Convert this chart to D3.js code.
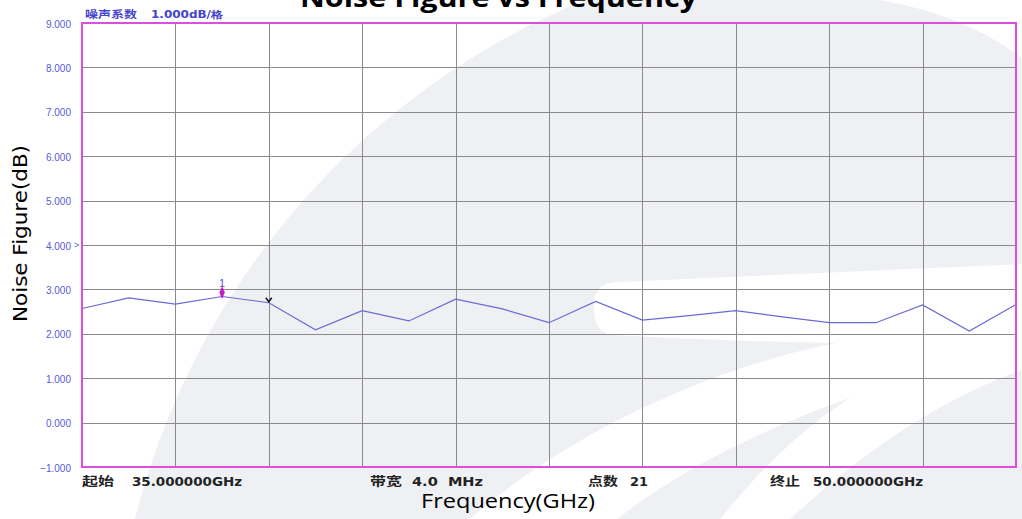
<!DOCTYPE html>
<html><head><meta charset="utf-8">
<script src="https://cdn.jsdelivr.net/npm/d3@7"></script>
<style>html,body{margin:0;padding:0;background:#fff;overflow:hidden}</style>
</head><body>
<script>
const freqs = [35, 35.75, 36.5, 37.25, 38, 38.75, 39.5, 40.25, 41, 41.75, 42.5, 43.25, 44, 44.75, 45.5, 46.25, 47, 47.75, 48.5, 49.25, 50];
const noiseFigure = [2.57, 2.81, 2.67, 2.84, 2.70, 2.09, 2.52, 2.29, 2.78, 2.56, 2.25, 2.73, 2.31, 2.41, 2.52, 2.38, 2.25, 2.25, 2.65, 2.06, 2.66];
const yTicks = [-1, 0, 1, 2, 3, 4, 5, 6, 7, 8, 9];
const xGrid = [35, 36.5, 38, 39.5, 41, 42.5, 44, 45.5, 47, 48.5, 50];
const markerIndex = 3;
const refIndex = 4;
const infoLabels = [
  {cn: "起始", val: "35.000000GHz"},
  {cn: "带宽", val: "4.0  MHz"},
  {cn: "点数", val: "21"},
  {cn: "终止", val: "50.000000GHz"}
];
const title = "Noise Figure vs Frequency";
const xTitle = "Frequency(GHz)";
const yTitle = "Noise Figure(dB)";
const header = ["噪声系数", "1.000dB/格"];

const W = 1022, H = 519;
const m = {left: 82, right: 1016, top: 23, bottom: 467};
const svg = d3.select("body").append("svg").attr("width", W).attr("height", H);

// watermark background
const wm = svg.append("g");
const gray = "#eff0f4";
wm.append("path").attr("fill", gray)
  .attr("d", "M135,519 A764,764 0 0 1 585,0 L880,0 Q965,15 1022,58 L1022,519 Z");
wm.append("path").attr("fill", "#fff")
  .attr("d", "M594,308 C594,290 600,283 618,282 L1022,264 L1022,370 " +
             "C950,395 870,445 790,519 L720,519 " +
             "C760,470 800,430 850,398 " +
             "C760,430 680,470 617,519 L470,519 " +
             "C560,440 700,370 836,343 " +
             "C750,342 650,337 612,335 C598,332 594,322 594,308 Z");

const x = d3.scaleLinear().domain([35, 50]).range([m.left, m.right]);
const y = d3.scaleLinear().domain([-1, 9]).range([m.bottom, m.top]);

// grid
const grid = svg.append("g").attr("stroke", "#8a8a8a").attr("stroke-width", 1);
grid.selectAll("line.h").data(yTicks).join("line")
  .attr("x1", m.left).attr("x2", m.right)
  .attr("y1", d => Math.round(y(d)) + 0.5).attr("y2", d => Math.round(y(d)) + 0.5);
grid.selectAll("line.v").data(xGrid).join("line")
  .attr("y1", m.top).attr("y2", m.bottom)
  .attr("x1", d => Math.round(x(d)) + 0.5).attr("x2", d => Math.round(x(d)) + 0.5);

// y axis labels
const yAxis = d3.axisLeft(y).tickValues(yTicks).tickFormat(d3.format(".3f")).tickSize(0).tickPadding(11);
const ya = svg.append("g").attr("transform", `translate(${m.left},0)`).call(yAxis);
ya.select(".domain").remove();
ya.selectAll("text").attr("fill", "#5a5ad8").attr("font-family", "Liberation Sans, Arial, sans-serif")
  .attr("font-size", 10).attr("dy", "0.4em");
svg.append("text").attr("x", 74).attr("y", y(4)).attr("dy", "0.35em")
  .attr("font-family", "Liberation Sans, sans-serif").attr("font-size", 9).attr("fill", "#5a5ad8").text(">");

// trace
const line = d3.line().x((d, i) => x(freqs[i])).y(d => y(d));
svg.append("path").datum(noiseFigure).attr("d", line)
  .attr("fill", "none").attr("stroke", "#6a6ad6").attr("stroke-width", 1.2);

// marker 1
const mx = x(freqs[markerIndex]), my = y(noiseFigure[markerIndex]);
svg.append("path").attr("d", d3.symbol(d3.symbolDiamond, 40)())
  .attr("transform", `translate(${mx},${my - 4}) scale(0.8,1.1)`).attr("fill", "#c81ec8");
svg.append("text").attr("x", mx).attr("y", my - 10).attr("text-anchor", "middle")
  .attr("font-family", "Liberation Sans, sans-serif").attr("font-size", 11).attr("fill", "#5555bb").text("1");
// ref marker
const rx = x(freqs[refIndex]), ry = y(noiseFigure[refIndex]);
svg.append("path").attr("d", `M${rx - 3},${ry - 5} L${rx},${ry - 1} L${rx + 3},${ry - 5}`)
  .attr("fill", "none").attr("stroke", "#111").attr("stroke-width", 1.4);

// frame
svg.append("rect").attr("x", m.left).attr("y", m.top).attr("width", m.right - m.left).attr("height", m.bottom - m.top)
  .attr("fill", "none").attr("stroke", "#dc4fdc").attr("stroke-width", 2);

// header
svg.append("text").attr("x", 85).attr("y", 18).attr("font-family", "Noto Sans CJK SC, sans-serif")
  .attr("font-weight", 700).attr("font-size", 10).attr("fill", "#4545cc")
  .attr("textLength", 52).attr("lengthAdjust", "spacingAndGlyphs").text(header[0]);
svg.append("text").attr("x", 151).attr("y", 18).attr("font-family", "DejaVu Sans, sans-serif")
  .attr("font-weight", 700).attr("font-size", 10).attr("fill", "#4545cc")
  .attr("textLength", 72).attr("lengthAdjust", "spacingAndGlyphs").text(header[1]);

// info labels
const infoPos = [{cx: 82, cw: 32, vx: 132, vw: 110}, {cx: 370, cw: 32, vx: 412, vw: 71}, {cx: 588, cw: 30, vx: 630, vw: 18}, {cx: 770, cw: 30, vx: 813, vw: 110}];
infoLabels.forEach((d, i) => {
  const p = infoPos[i];
  svg.append("text").attr("x", p.cx).attr("y", 486).attr("font-family", "Noto Sans CJK SC, sans-serif")
    .attr("font-weight", 700).attr("font-size", 12).attr("fill", "#222")
    .attr("textLength", p.cw).attr("lengthAdjust", "spacingAndGlyphs").text(d.cn);
  svg.append("text").attr("x", p.vx).attr("y", 486).attr("font-family", "DejaVu Sans, sans-serif")
    .attr("font-weight", 700).attr("font-size", 11.5).attr("fill", "#222").attr("xml:space", "preserve")
    .attr("textLength", p.vw).attr("lengthAdjust", "spacingAndGlyphs").text(d.val);
});

// titles
svg.append("text").attr("x", 300).attr("y", 7).attr("font-family", "Open Sans, sans-serif")
  .attr("font-weight", 700).attr("font-size", 27).attr("fill", "#000")
  .attr("textLength", 397).attr("lengthAdjust", "spacingAndGlyphs").text(title);
svg.append("text").attr("x", 421).attr("y", 508).attr("font-family", "Open Sans, sans-serif")
  .attr("font-size", 20).attr("fill", "#000")
  .attr("textLength", 174).attr("lengthAdjust", "spacingAndGlyphs").text(xTitle);
svg.append("text").attr("transform", "translate(27,322) rotate(-90)").attr("font-family", "DejaVu Sans, sans-serif")
  .attr("font-size", 19).attr("fill", "#000")
  .attr("textLength", 177).attr("lengthAdjust", "spacingAndGlyphs").text(yTitle);
</script>
</body></html>
